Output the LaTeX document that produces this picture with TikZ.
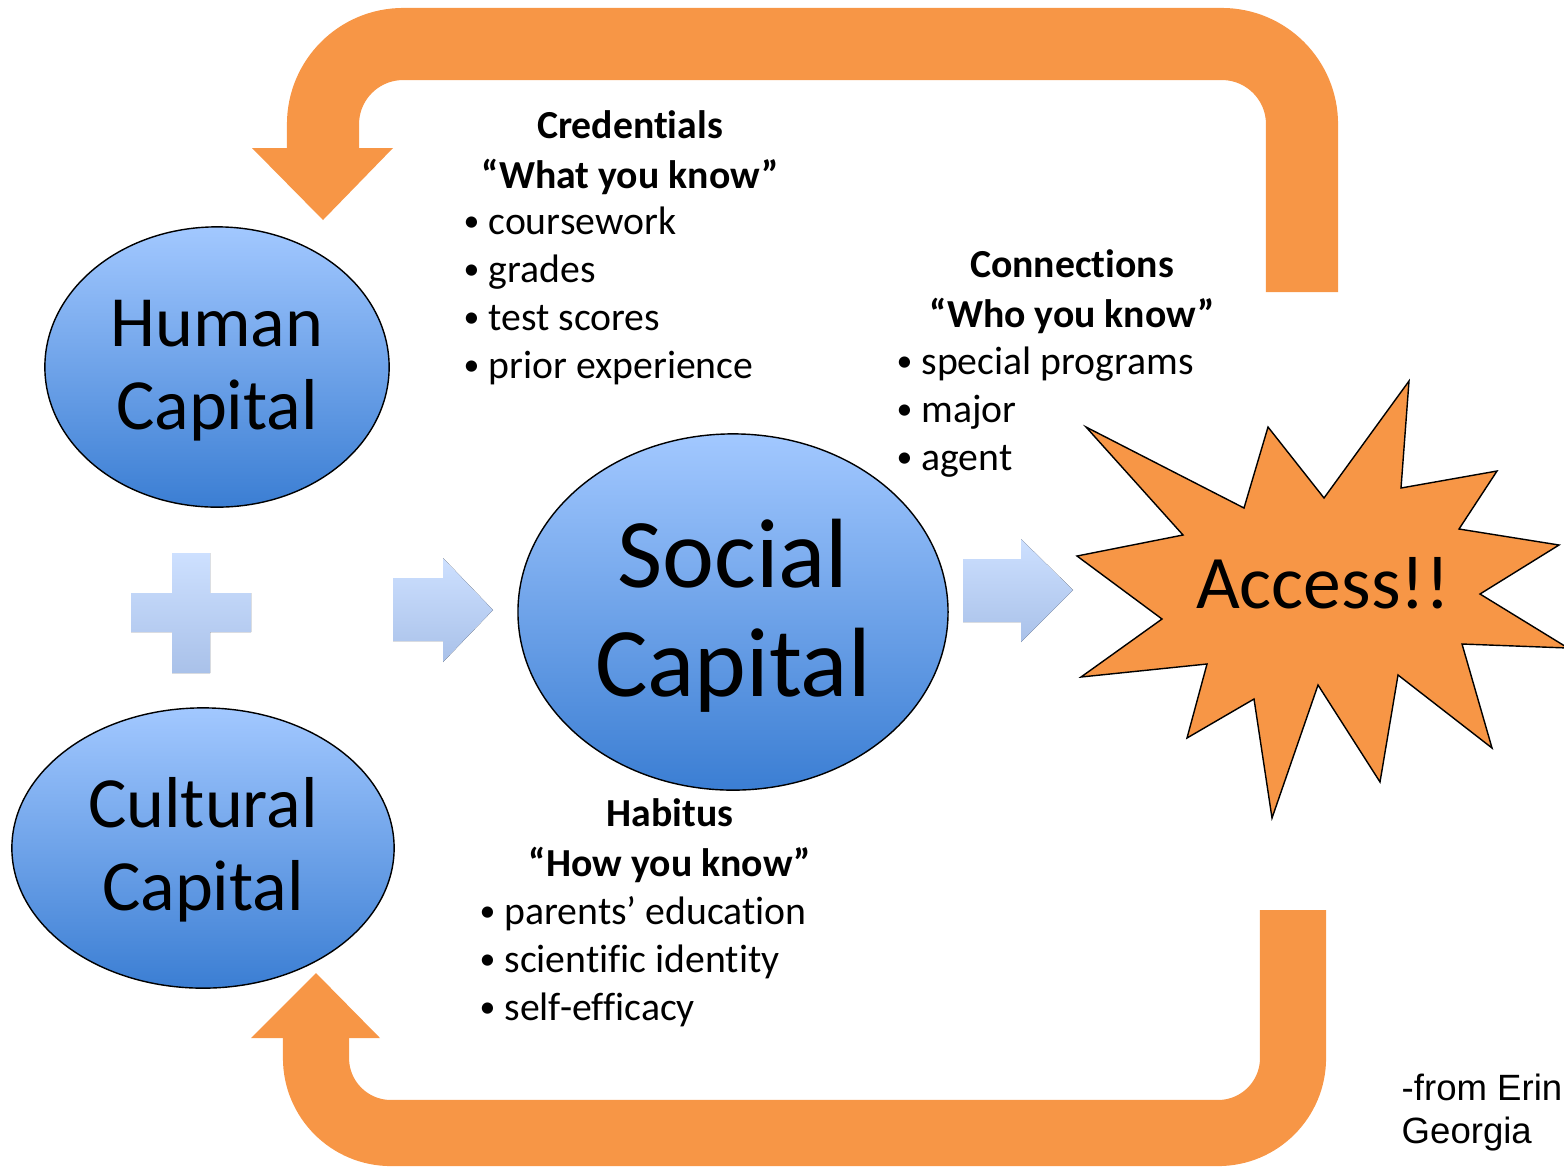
\documentclass[tikz,border=0pt]{standalone}
\usepackage{fontspec}
\setmainfont{Carlito}[Ligatures=NoCommon]
\newfontfamily\creditfont{Liberation Sans}
\usetikzlibrary{shapes.geometric}

\definecolor{bandorange}{HTML}{F79646}
\definecolor{captop}{HTML}{A2C8FF}
\definecolor{capmid}{HTML}{7FB0F2}
\definecolor{capbottom}{HTML}{3B7ED3}
\definecolor{arrowtop}{HTML}{CDE0FF}
\definecolor{arrowbottom}{HTML}{A9C1E9}

% smaller list bullet
\newcommand{\itembullet}{\raisebox{0.8pt}{\scalebox{0.8}{•}}\ }

\tikzset{
	capital/.style={draw, ellipse, inner sep=0pt, align=center, top color=captop, middle color=capmid, bottom color=capbottom},
	bluearrow/.style={draw=none, top color=arrowtop, bottom color=arrowbottom},
	heading/.style={align=center, inner sep=0pt, anchor=base, font=\fontsize{11.3}{14.2}\selectfont\bfseries},
	bullets/.style={align=left, inner sep=0pt, anchor=base west, font=\fontsize{11.3}{13.6}\selectfont},
	returnband/.style={draw=bandorange, line cap=butt},
}

\begin{document}
\begin{tikzpicture}[x=0.01cm, y=-0.01cm]
			\useasboundingbox (0, 0) rectangle (1564, 1166);

			% orange return bands
			\coordinate (topstart) 	at (1302, 292);
			\coordinate (topend) 	at (323, 150);
			\coordinate (topheadl) 	at (252, 148);
			\coordinate (topheadr) 	at (393, 148);
			\coordinate (toptip) 	at (323, 220);
			\coordinate (botstart) 	at (1293, 910);
			\coordinate (botend) 	at (316, 1036);
			\coordinate (botheadl) 	at (251, 1038);
			\coordinate (botheadr) 	at (380, 1038);
			\coordinate (bottip) 	at (316, 973);

			\draw[returnband, line width=20.5pt, rounded corners=22.8pt] (topstart) -- (1302, 44) -- (323, 44) -- (topend);
			\fill[bandorange] (topheadl) -- (topheadr) -- (toptip) -- cycle;
			\draw[returnband, line width=18.8pt, rounded corners=21.3pt] (botstart) -- (1293, 1133) -- (316, 1133) -- (botend);
			\fill[bandorange] (botheadl) -- (botheadr) -- (bottip) -- cycle;

			% capitals
			\draw (217, 367) 	node[capital, minimum width=97.9pt, minimum height=79.7pt, font=\fontsize{20.5}{23.6}\selectfont] 	(human) 	{\rule{0pt}{15.5pt}Human\\Capital};
			\draw (203, 848) 	node[capital, minimum width=108.7pt, minimum height=79.7pt, font=\fontsize{20.5}{23.6}\selectfont] 	(cultural) 	{\rule{0pt}{15pt}Cultural\\Capital};
			\draw (733, 612) 	node[capital, minimum width=122.3pt, minimum height=101.3pt, font=\fontsize{28}{31}\selectfont] 	(social) 	{\rule{0pt}{21.5pt}Social\\Capital};

			% plus and arrows
			\fill[bluearrow] (172, 553) -- (210, 553) -- (210, 593) -- (251, 593) -- (251, 632) -- (210, 632) -- (210, 673) -- (172, 673) -- (172, 632) -- (131, 632) -- (131, 593) -- (172, 593) -- cycle;
			\fill[bluearrow] (393, 578) -- (443, 578) -- (443, 558) -- (493, 610) -- (443, 662) -- (443, 641) -- (393, 641) -- cycle;
			\fill[bluearrow] (963, 559) -- (1021, 559) -- (1021, 539) -- (1073, 590) -- (1021, 642) -- (1021, 622) -- (963, 622) -- cycle;

			% access burst
			\draw[fill=bandorange, line join=miter] (1086, 427) -- (1244, 508) -- (1268, 427) -- (1324, 498) -- (1409, 381) -- (1401, 488)
				-- (1497, 471) -- (1459, 529) -- (1559, 545) -- (1480, 594) -- (1568, 648) -- (1462, 644) -- (1492, 748)
				-- (1398, 675) -- (1380, 782) -- (1318, 685) -- (1272, 818) -- (1254, 699) -- (1187, 738) -- (1207, 664)
				-- (1081, 677) -- (1162, 619) -- (1077, 556) -- (1183, 535) -- cycle;
			\draw (1323, 583) 	node[font=\fontsize{21.5}{24}\selectfont] 	(access) 	{Access!!};

			% labels
			\draw (630, 188) 	node[heading] 	(credentials) 	{Credentials\\“What you know”};
			\draw (463, 378) 	node[bullets] 	(knowlist) 		{\itembullet coursework\\\itembullet grades\\\itembullet test scores\\\itembullet prior experience};
			\draw (1072, 327) 	node[heading] 	(connections) 	{Connections\\“Who you know”};
			\draw (896, 470) 	node[bullets] 	(wholist) 		{\itembullet special programs\\\itembullet major\\\itembullet agent};
			\draw (670, 876) 	node[heading] 	(habitus) 		{Habitus\\“How you know”};
			\draw (479, 1020) 	node[bullets] 	(howlist) 		{\itembullet parents’ education\\\itembullet scientific identity\\\itembullet self-efficacy};

			\draw (1401, 1143) 	node[anchor=base west, inner sep=0pt, align=left, font=\creditfont\fontsize{10.4}{12.2}\selectfont] 	(credit) 	{-from Erin\\Georgia};
		\end{tikzpicture}
\end{document}
